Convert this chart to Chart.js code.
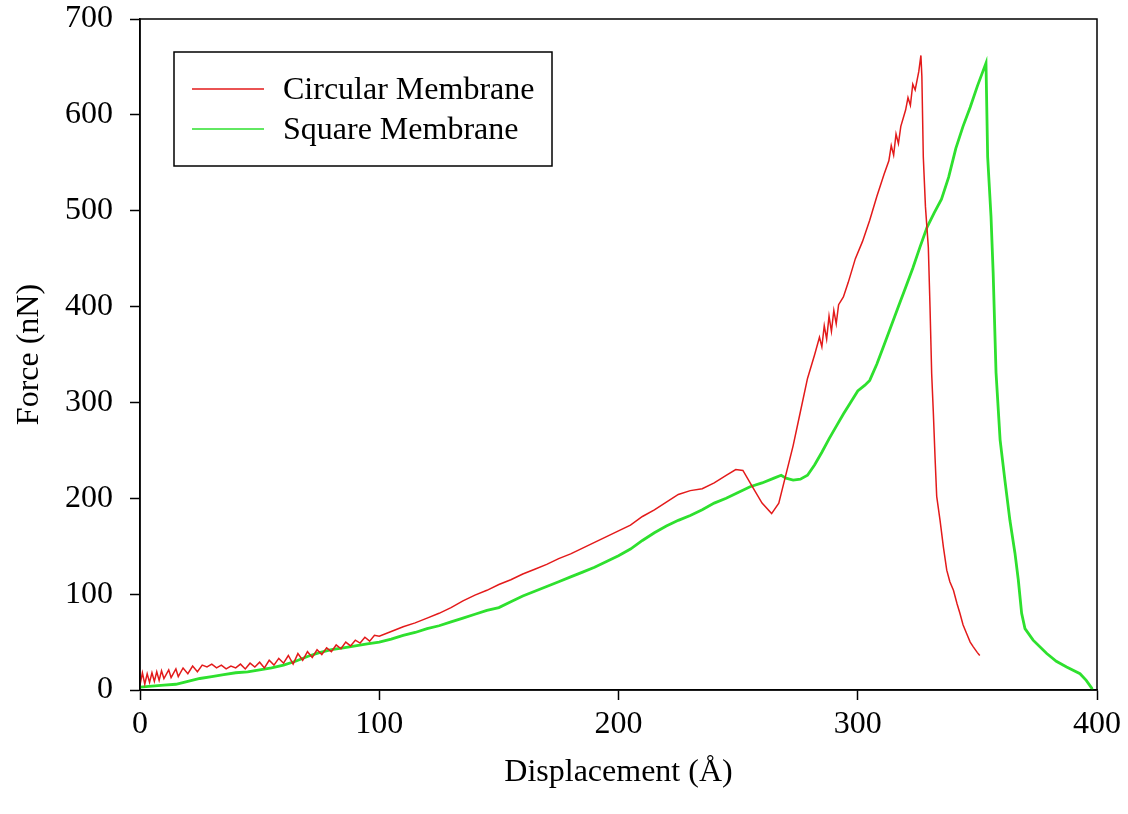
<!DOCTYPE html>
<html>
<head>
<meta charset="utf-8">
<title>Force vs Displacement</title>
<script src="https://cdn.jsdelivr.net/npm/chart.js@4.4.0/dist/chart.umd.min.js"></script>
<style>
  body { margin: 0; background: #fff; }
  #wrap { width: 1128px; height: 814px; }
</style>
</head>
<body>
<div id="wrap"><canvas id="myChart" width="1128" height="814"></canvas></div>
<script>
// Circular membrane: displacement (Å) / force (nN)
const circX = [0, 1, 2, 3, 4, 5, 6, 7, 8, 9, 10, 12, 13, 15, 16, 18, 20, 22, 24, 26,
  28, 30, 32, 34, 36, 38, 40, 42, 44, 46, 48, 50, 52, 54, 56, 58, 60, 62, 64, 66,
  68, 70, 72, 74, 76, 78, 80, 82, 84, 86, 88, 90, 92, 94, 96, 98, 100,
  105, 110, 115, 120, 125, 130, 135, 140, 145, 150, 155, 160, 165, 170, 175, 180,
  185, 190, 195, 200, 205, 210, 215, 220, 225, 230, 235, 240, 245, 249, 252, 256,
  260, 264, 267, 270, 273, 276, 279, 282, 284, 285, 286, 287, 288, 289, 290, 291,
  292, 294, 296, 299, 302, 305, 308, 311, 313, 314, 315, 316, 317, 318, 320, 321,
  322, 323, 324, 325.5, 326.4, 326.8, 327.4, 328.3, 329.5, 330.2, 330.9, 331.6,
  332.3, 333, 334.4, 335.8, 337.2, 338.5, 340, 341.5, 342.7, 344, 345.5, 347, 348.3, 350, 351];
const circF = [5, 18, 6, 17, 8, 18, 9, 19, 10, 20, 12, 21, 13, 22, 14, 23, 17, 25, 19, 26,
  24, 27, 23, 26, 22, 25, 23, 27, 22, 28, 24, 29, 23, 31, 26, 33, 28, 36, 27, 38,
  31, 40, 34, 42, 37, 44, 40, 47, 43, 50, 46, 52, 49, 55, 51, 57, 56,
  61, 66, 70, 75, 80, 86, 93, 99, 104, 110, 115, 121, 126, 131, 137, 142,
  148, 154, 160, 166, 172, 181, 188, 196, 204, 208, 210, 216, 224, 230, 229, 212,
  195, 184, 195, 225, 255, 290, 325, 350, 368, 358, 380, 366, 390, 374, 396, 382,
  402, 410, 425, 450, 468, 490, 515, 538, 552, 568, 558, 580, 570, 588, 605, 618,
  610, 632, 626, 645, 662, 640, 556, 504, 462, 400, 330, 289,
  243, 202, 177, 149, 125, 113, 104, 90, 80, 68, 59, 50, 45, 39, 36];

// Square membrane
const sqX = [0, 5, 10, 15, 20, 25, 30, 35, 40, 45, 50, 55, 60, 65, 70, 75, 80, 85, 90, 95,
  100, 105, 110, 115, 120, 125, 130, 135, 140, 145, 150, 155, 160, 165, 170, 175, 180,
  185, 190, 195, 200, 205, 210, 215, 220, 225, 230, 235, 240, 245, 250, 255, 260, 265,
  268, 270, 273, 276, 279, 282, 285, 288, 291, 294, 297, 300, 303, 305, 308, 311, 314,
  317, 320, 323, 326, 329, 332, 335, 338, 341, 344, 347, 350, 353.6, 354.3, 355.7,
  356.6, 357.8, 359.5, 361.5, 363.6, 365.7, 367.1, 368.5, 369.9, 373.3, 379, 383,
  387.3, 392.9, 395.5, 397.8, 398];
const sqF = [3, 4, 5, 6, 9, 12, 14, 16, 18, 19, 21, 23, 26, 30, 35, 39, 42, 44, 46, 48,
  50, 53, 57, 60, 64, 67, 71, 75, 79, 83, 86, 92, 98, 103, 108, 113, 118,
  123, 128, 134, 140, 147, 156, 164, 171, 177, 182, 188, 195, 200, 206, 212, 216, 221,
  224, 221, 219, 220, 224, 235, 248, 262, 275, 288, 300, 312, 318, 323, 340, 360, 380,
  400, 420, 440, 462, 483, 498, 512, 535, 565, 588, 608, 630, 654, 556, 494,
  435, 331, 261, 219, 177, 143, 115, 80, 64, 52, 38, 30,
  24, 17, 10, 2, 0];

const xTicks = [0, 100, 200, 300, 400];
const yTicks = [0, 100, 200, 300, 400, 500, 600, 700];

const seriesNames = ['Circular Membrane', 'Square Membrane'];
const seriesColors = ['#e31a1a', '#2ee02e'];

const serif = "'Liberation Serif', 'Times New Roman', serif";

function toPoints(xs, ys) {
  return xs.map((x, i) => ({ x: x, y: ys[i] }));
}

// box round the plot area + legend box inside it
const framePlugin = {
  id: 'frame',
  afterDatasetsDraw(chart) {
    const a = chart.chartArea;
    const ctx = chart.ctx;
    ctx.save();
    ctx.strokeStyle = '#000';
    ctx.lineWidth = 1.5;
    ctx.strokeRect(a.left, a.top, a.right - a.left, a.bottom - a.top);
    ctx.restore();
  },
  afterDraw(chart) {
    const ctx = chart.ctx;
    ctx.save();
    ctx.fillStyle = '#fff';
    ctx.fillRect(174, 52, 378, 114);
    ctx.strokeStyle = '#000';
    ctx.lineWidth = 1.5;
    ctx.strokeRect(174, 52, 378, 114);
    ctx.font = '32px ' + serif;
    ctx.textBaseline = 'alphabetic';
    chart.data.datasets.forEach((ds, i) => {
      const y = 89 + i * 40;
      ctx.strokeStyle = ds.borderColor;
      ctx.lineWidth = 1.5;
      ctx.beginPath();
      ctx.moveTo(192, y);
      ctx.lineTo(264, y);
      ctx.stroke();
      ctx.fillStyle = '#000';
      ctx.fillText(ds.label, 283, y + 10);
    });
    ctx.restore();
  }
};

const ctx = document.getElementById('myChart').getContext('2d');
const chart = new Chart(ctx, {
  type: 'scatter',
  data: {
    datasets: [
      {
        label: seriesNames[0],
        data: toPoints(circX, circF),
        showLine: true,
        borderColor: seriesColors[0],
        borderWidth: 1.5,
        pointRadius: 0,
        tension: 0
      },
      {
        label: seriesNames[1],
        data: toPoints(sqX, sqF),
        showLine: true,
        borderColor: seriesColors[1],
        borderWidth: 2.8,
        pointRadius: 0,
        tension: 0
      }
    ]
  },
  options: {
    responsive: false,
    animation: false,
    layout: { padding: { top: 19, right: 31, left: 0, bottom: 0 } },
    plugins: {
      legend: { display: false },
      tooltip: { enabled: false }
    },
    scales: {
      x: {
        type: 'linear',
        min: 0,
        max: 400,
        afterBuildTicks: (s) => { s.ticks = xTicks.map(v => ({ value: v })); },
        afterFit: (s) => { s.height = 124; s.paddingLeft = 0; s.paddingRight = 0; },
        ticks: { color: '#000', padding: 5, font: { family: serif, size: 32 } },
        grid: { drawOnChartArea: false, drawTicks: true, tickLength: 10, color: '#000', tickWidth: 1.5 },
        border: { display: true, color: '#000', width: 1.5 },
        title: {
          display: true,
          text: 'Displacement (Å)',
          color: '#000',
          font: { family: serif, size: 32 },
          padding: { top: 0, bottom: 22 }
        }
      },
      y: {
        type: 'linear',
        min: 0,
        max: 700,
        afterBuildTicks: (s) => { s.ticks = yTicks.map(v => ({ value: v })); },
        afterFit: (s) => { s.width = 140; s.paddingTop = 0; s.paddingBottom = 0; },
        ticks: { color: '#000', padding: 17, font: { family: serif, size: 32 } },
        grid: { drawOnChartArea: false, drawTicks: true, tickLength: 10, color: '#000', tickWidth: 1.5 },
        border: { display: true, color: '#000', width: 1.5 },
        title: {
          display: true,
          text: 'Force (nN)',
          color: '#000',
          font: { family: serif, size: 32 },
          padding: { top: 10, bottom: 0 }
        }
      }
    }
  },
  plugins: [framePlugin]
});
</script>
</body>
</html>
